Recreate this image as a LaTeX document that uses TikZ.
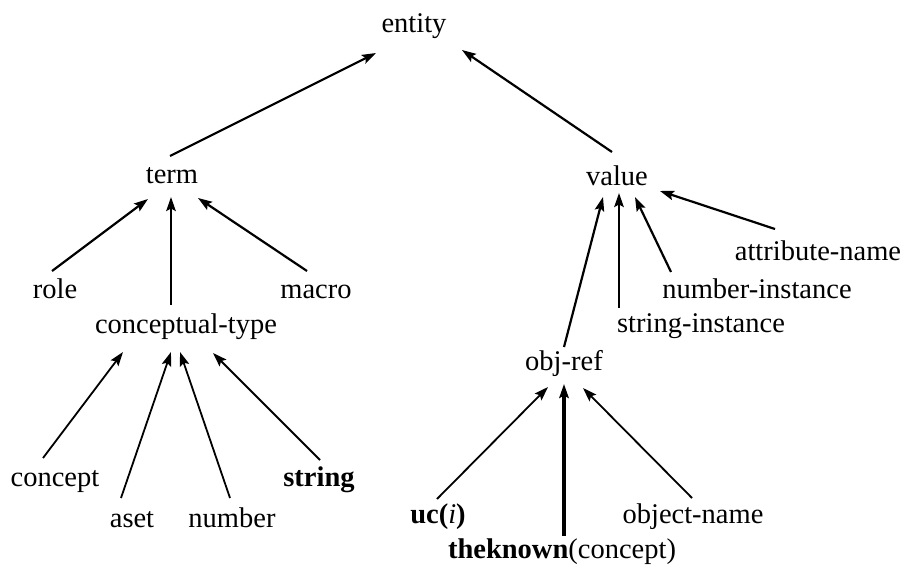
\documentclass[tikz,border=0pt]{standalone}
\usepackage{fontspec}
\setmainfont{Liberation Serif}
\usetikzlibrary{arrows.meta}
\begin{document}
\begin{tikzpicture}[x=1pt,y=-1pt,
  lbl/.style={inner sep=0pt,anchor=base,font=\fontsize{28.5}{34}\selectfont},
  isa/.style={-{Stealth[length=14pt,width=9.5pt,inset=2.5pt]},line width=2.2pt},
  isathin/.style={isa,line width=1.8pt},
  isathick/.style={isa,line width=4.2pt}]
\useasboundingbox (0,0) rectangle (914,565);

% nodes placed on their baselines
\node[lbl] (entity)   at (414,32)  {entity};
\node[lbl] (term)     at (172,183) {term};
\node[lbl] (value)    at (617,185) {value};
\node[lbl] (role)     at (55,298)  {role};
\node[lbl] (macro)    at (316,298) {macro};
\node[lbl] (ctype)    at (186,333) {conceptual-type};
\node[lbl] (attr)     at (818,260) {attribute-name};
\node[lbl] (numinst)  at (757,298) {number-instance};
\node[lbl] (strinst)  at (701,332) {string-instance};
\node[lbl] (objref)   at (564,370) {obj-ref};
\node[lbl] (concept)  at (55,486)  {concept};
\node[lbl] (string)   at (319,486) {\textbf{string}};
\node[lbl] (aset)     at (132,527) {aset};
\node[lbl] (number)   at (232,527) {number};
\node[lbl] (uc)       at (438,523) {\textbf{uc(}\textit{i}\textbf{)}};
\node[lbl] (objname)  at (693,523) {object-name};
\node[lbl] (theknown) at (562,558) {\textbf{theknown}(concept)};

% is-a links, each pointing from the specialisation up to its parent
\draw[isa] ([shift={(-2,-27)}]term.base) -- ([shift={(-38,21)}]entity.base);
\draw[isa] ([shift={(-5,-33)}]value.base) -- ([shift={(48,18)}]entity.base);

\draw[isa] ([shift={(-3,-27)}]role.base) -- ([shift={(-24,16)}]term.base);
\draw[isa] ([shift={(-15,-28)}]ctype.base) -- ([shift={(-1,14)}]term.base);
\draw[isa] ([shift={(-9,-27)}]macro.base) -- ([shift={(26,15)}]term.base);

\draw[isathin] ([shift={(-12,-28)}]concept.base) -- ([shift={(-63,19)}]ctype.base);
\draw[isathin] ([shift={(-11,-29)}]aset.base) -- ([shift={(-15,19)}]ctype.base);
\draw[isathin] ([shift={(-2,-29)}]number.base) -- ([shift={(-6,19)}]ctype.base);
\draw[isathin] ([shift={(1,-26)}]string.base) -- ([shift={(27,20)}]ctype.base);

\draw[isa] ([shift={(0,-23)}]objref.base) -- ([shift={(-14,12)}]value.base);
\draw[isa] ([shift={(-82,-24)}]strinst.base) -- ([shift={(2,8)}]value.base);
\draw[isa] ([shift={(-86,-26)}]numinst.base) -- ([shift={(18,12)}]value.base);
\draw[isa] ([shift={(-43,-31)}]attr.base) -- ([shift={(43,6)}]value.base);

\draw[isathin] ([shift={(-1,-24)}]uc.base) -- ([shift={(-16,17)}]objref.base);
\draw[isathick] ([shift={(2,-22)}]theknown.base) -- ([shift={(0,14)}]objref.base);
\draw[isathin] ([shift={(-1,-25)}]objname.base) -- ([shift={(19,18)}]objref.base);
\end{tikzpicture}
\end{document}
